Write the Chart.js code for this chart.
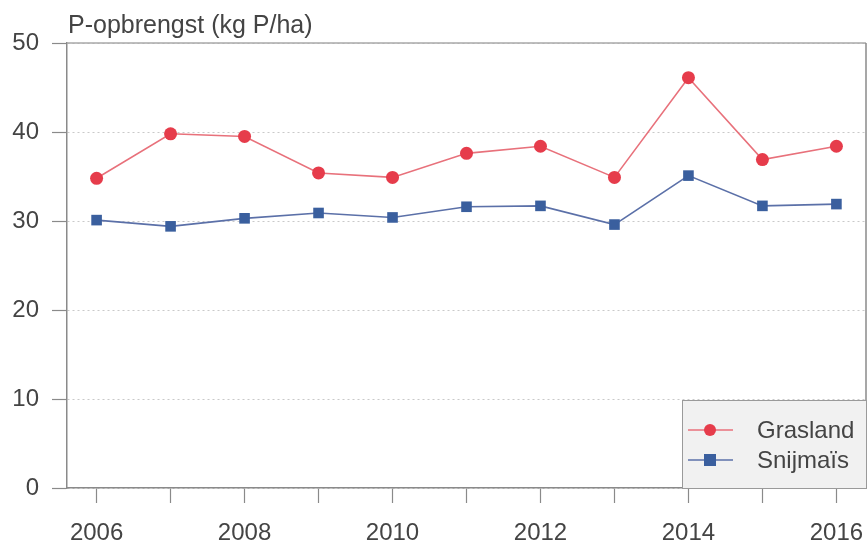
<!DOCTYPE html>
<html>
<head>
<meta charset="utf-8">
<script src="https://cdn.jsdelivr.net/npm/chart.js@4"></script>
<style>
  html, body { margin: 0; padding: 0; background: #fff; }
  #wrap { width: 868px; height: 544px; position: relative; }
</style>
</head>
<body>
<div id="wrap"><canvas id="chart" width="868" height="544"></canvas></div>
<script>
const years = [2006, 2007, 2008, 2009, 2010, 2011, 2012, 2013, 2014, 2015, 2016];
const grasland = [34.8, 39.8, 39.5, 35.4, 34.9, 37.6, 38.4, 34.9, 46.1, 36.9, 38.4];
const snijmais = [30.1, 29.4, 30.3, 30.9, 30.4, 31.6, 31.7, 29.6, 35.1, 31.7, 31.9];
const yTicks = [0, 10, 20, 30, 40, 50];
const yTitle = "P-opbrengst (kg P/ha)";

const axisGray = '#8a8a8a';
const textGray = '#444444';
const fontFamily = '"Liberation Sans", Arial, sans-serif';

// frame, title and a legend with line + marker, like the original
const extras = {
  id: 'extras',
  afterDraw(chart) {
    const { ctx, chartArea: a } = chart;
    ctx.save();
    ctx.strokeStyle = '#a8a8a8';
    ctx.lineWidth = 1.5;
    ctx.beginPath();
    ctx.moveTo(a.left, a.top);
    ctx.lineTo(a.right, a.top);
    ctx.stroke();
    ctx.strokeStyle = axisGray;
    ctx.beginPath();
    ctx.moveTo(a.right, a.top);
    ctx.lineTo(a.right, a.bottom);
    ctx.stroke();

    ctx.fillStyle = textGray;
    ctx.font = '25px ' + fontFamily;
    ctx.textBaseline = 'alphabetic';
    ctx.textAlign = 'left';
    ctx.fillText(yTitle, a.left + 1, a.top - 10);

    // legend
    const bx = 682, by = 400, bw = a.right - 682, bh = a.bottom - 400;
    ctx.fillStyle = '#f1f1f1';
    ctx.fillRect(bx, by, bw, bh);
    ctx.strokeStyle = '#9a9a9a';
    ctx.lineWidth = 1;
    ctx.strokeRect(bx + 0.5, by + 0.5, bw, bh);

    chart.data.datasets.forEach((ds, i) => {
      const y = 430 + i * 30;
      ctx.strokeStyle = ds.borderColor;
      ctx.lineWidth = 1.5;
      ctx.beginPath();
      ctx.moveTo(688, y);
      ctx.lineTo(733, y);
      ctx.stroke();
      ctx.fillStyle = ds.pointBackgroundColor;
      if (ds.pointStyle === 'rect') {
        ctx.fillRect(710 - 6, y - 6, 12, 12);
      } else {
        ctx.beginPath();
        ctx.arc(710, y, 6, 0, Math.PI * 2);
        ctx.fill();
      }
      ctx.fillStyle = textGray;
      ctx.font = '24px ' + fontFamily;
      ctx.textBaseline = 'middle';
      ctx.fillText(ds.label, 757, y + 1);
    });
    ctx.restore();
  }
};

new Chart(document.getElementById('chart'), {
  type: 'line',
  data: {
    datasets: [
      {
        label: 'Grasland',
        data: years.map((yr, i) => ({ x: yr, y: grasland[i] })),
        borderColor: '#e8717b',
        borderWidth: 1.6,
        pointStyle: 'circle',
        pointRadius: 6.5,
        pointBackgroundColor: '#e63c4b',
        pointBorderColor: '#e63c4b',
        pointBorderWidth: 0,
        tension: 0
      },
      {
        label: 'Snijmaïs',
        data: years.map((yr, i) => ({ x: yr, y: snijmais[i] })),
        borderColor: '#5b70a8',
        borderWidth: 1.6,
        pointStyle: 'rect',
        pointRadius: 7.5,
        pointBackgroundColor: '#3a5f9e',
        pointBorderColor: '#3a5f9e',
        pointBorderWidth: 0,
        tension: 0
      }
    ]
  },
  options: {
    responsive: false,
    animation: false,
    layout: { autoPadding: false, padding: { top: 43, right: 2, left: 0, bottom: 0 } },
    plugins: {
      legend: { display: false },
      tooltip: { enabled: false }
    },
    scales: {
      x: {
        type: 'linear',
        min: 2005.6,
        max: 2016.4,
        afterFit(s) { s.height = 56; s.paddingLeft = 0; s.paddingRight = 0; },
        grid: { drawOnChartArea: false, drawTicks: true, tickLength: 15, tickColor: axisGray, tickWidth: 1.2 },
        border: { color: axisGray, width: 1.5 },
        ticks: {
          stepSize: 1,
          includeBounds: false,
          autoSkip: false,
          maxRotation: 0,
          padding: 16,
          color: textGray,
          font: { size: 24, family: fontFamily },
          callback: v => (v % 2 === 0 ? String(v) : '')
        }
      },
      y: {
        min: 0,
        max: 50,
        afterFit(s) { s.width = 67; s.paddingTop = 0; s.paddingBottom = 0; },
        afterBuildTicks(s) { s.ticks = yTicks.map(v => ({ value: v })); },
        grid: { color: '#c9c9c9', lineWidth: 1, tickLength: 15, tickColor: axisGray, tickWidth: 1.2 },
        border: { color: axisGray, width: 1.5, dash: [2, 3] },
        ticks: {
          padding: 13,
          color: textGray,
          font: { size: 24, family: fontFamily }
        }
      }
    }
  },
  plugins: [extras]
});
</script>
</body>
</html>
